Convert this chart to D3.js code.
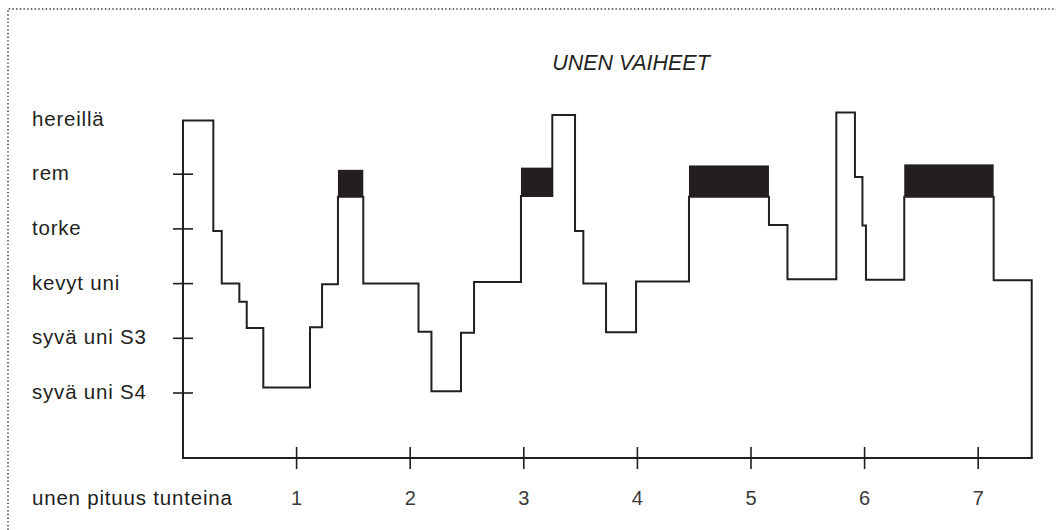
<!DOCTYPE html>
<html>
<head>
<meta charset="utf-8">
<script src="https://cdn.jsdelivr.net/npm/d3@7"></script>
<style>
  body { margin: 0; background: #fff; }
  svg { display: block; font-family: "Liberation Sans", Arial, sans-serif; }
</style>
</head>
<body>
<div id="chart"></div>
<script>
const width = 1056, height = 530;

// stage labels, bottom to top (value = index)
const stageNames = ["syvä uni S4", "syvä uni S3", "kevyt uni", "torke", "rem", "hereillä"];
const hourTicks = [1, 2, 3, 4, 5, 6, 7];

// hypnogram as steps: each level holds from stepStart[i] to stepStart[i+1] (hours)
const stepStart = [0, 0.267, 0.341, 0.496, 0.561, 0.707, 1.118, 1.224, 1.364, 1.587,
                   2.073, 2.187, 2.447, 2.562, 2.975, 3.251, 3.451, 3.524, 3.724, 3.988,
                   4.454, 5.158, 5.321, 5.751, 5.915, 5.981, 6.012, 6.349, 7.136];
const stepLevel = [4.98, 2.96, 2.0, 1.67, 1.19, 0.1, 1.2, 1.99, 3.59, 2.0,
                   1.12, 0.03, 1.1, 2.03, 3.6, 5.08, 2.96, 2.0, 1.11, 2.04,
                   3.59, 3.07, 2.08, 5.13, 3.95, 3.06, 2.07, 3.59, 2.06];
const endHour = 7.471;

// rem periods (black bands)
const remStart = [1.364, 2.975, 4.454, 6.349];
const remEnd   = [1.587, 3.251, 5.158, 7.136];
const remTop   = [4.08, 4.12, 4.16, 4.18];
const remBottom = 3.59;

const ink = "#231f20";

const svg = d3.select("#chart").append("svg")
    .attr("width", width)
    .attr("height", height);

// =========================
// SCALES
// =========================
const x = d3.scaleLinear().domain([0, 7]).range([183, 978.2]);
const y = d3.scaleLinear().domain([0, 5]).range([393, 119.5]);
const yBase = 458;

// dotted frame
svg.append("path")
    .attr("d", `M8,${height} V9 H${width}`)
    .attr("fill", "none")
    .attr("stroke", "#333")
    .attr("stroke-width", 1.4)
    .attr("stroke-dasharray", "1.4,2.3");

// title
svg.append("text")
    .attr("x", 631)
    .attr("y", 70)
    .attr("text-anchor", "middle")
    .style("font-style", "italic")
    .style("font-size", "21.5px")
    .attr("fill", ink)
    .text("UNEN VAIHEET");

// =========================
// REM BANDS
// =========================
svg.selectAll("rect.rem")
    .data(remStart.map((s, i) => ({ s, e: remEnd[i], top: remTop[i] })))
    .join("rect")
    .attr("class", "rem")
    .attr("x", d => x(d.s))
    .attr("y", d => y(d.top))
    .attr("width", d => x(d.e) - x(d.s))
    .attr("height", d => y(remBottom) - y(d.top))
    .attr("fill", ink);

// =========================
// STEP LINE
// =========================
let d = `M${x(0)},${yBase}`;
stepStart.forEach((s, i) => {
    const e = i < stepStart.length - 1 ? stepStart[i + 1] : endHour;
    d += ` L${x(s)},${y(stepLevel[i])} L${x(e)},${y(stepLevel[i])}`;
});
d += ` L${x(endHour)},${yBase}`;

svg.append("path")
    .attr("d", d)
    .attr("fill", "none")
    .attr("stroke", ink)
    .attr("stroke-width", 2)
    .attr("stroke-linejoin", "miter");

// =========================
// AXES
// =========================
svg.append("line")
    .attr("x1", x(0) - 1).attr("x2", x(endHour) + 1)
    .attr("y1", yBase).attr("y2", yBase)
    .attr("stroke", ink)
    .attr("stroke-width", 2);

svg.selectAll("line.xtick")
    .data(hourTicks)
    .join("line")
    .attr("class", "xtick")
    .attr("x1", h => x(h)).attr("x2", h => x(h))
    .attr("y1", yBase - 11).attr("y2", yBase + 11)
    .attr("stroke", ink)
    .attr("stroke-width", 1.6);

svg.selectAll("text.xlabel")
    .data(hourTicks)
    .join("text")
    .attr("class", "xlabel")
    .attr("x", h => x(h))
    .attr("y", 505)
    .attr("text-anchor", "middle")
    .style("font-size", "20px")
    .attr("fill", "#3a3a3a")
    .text(h => h);

const yTicks = d3.range(0, 5);
svg.selectAll("line.ytick")
    .data(yTicks)
    .join("line")
    .attr("class", "ytick")
    .attr("x1", x(0) - 10).attr("x2", x(0) + 10)
    .attr("y1", v => y(v)).attr("y2", v => y(v))
    .attr("stroke", ink)
    .attr("stroke-width", 1.6);

svg.selectAll("text.ylabel")
    .data(stageNames)
    .join("text")
    .attr("class", "ylabel")
    .attr("x", 32)
    .attr("y", (s, i) => y(i) + 6)
    .style("font-size", "20.5px")
    .style("letter-spacing", "0.8px")
    .attr("fill", ink)
    .text(s => s);

svg.append("text")
    .attr("x", 32)
    .attr("y", 505)
    .style("font-size", "20.5px")
    .style("letter-spacing", "0.8px")
    .attr("fill", ink)
    .text("unen pituus tunteina");
</script>
</body>
</html>
